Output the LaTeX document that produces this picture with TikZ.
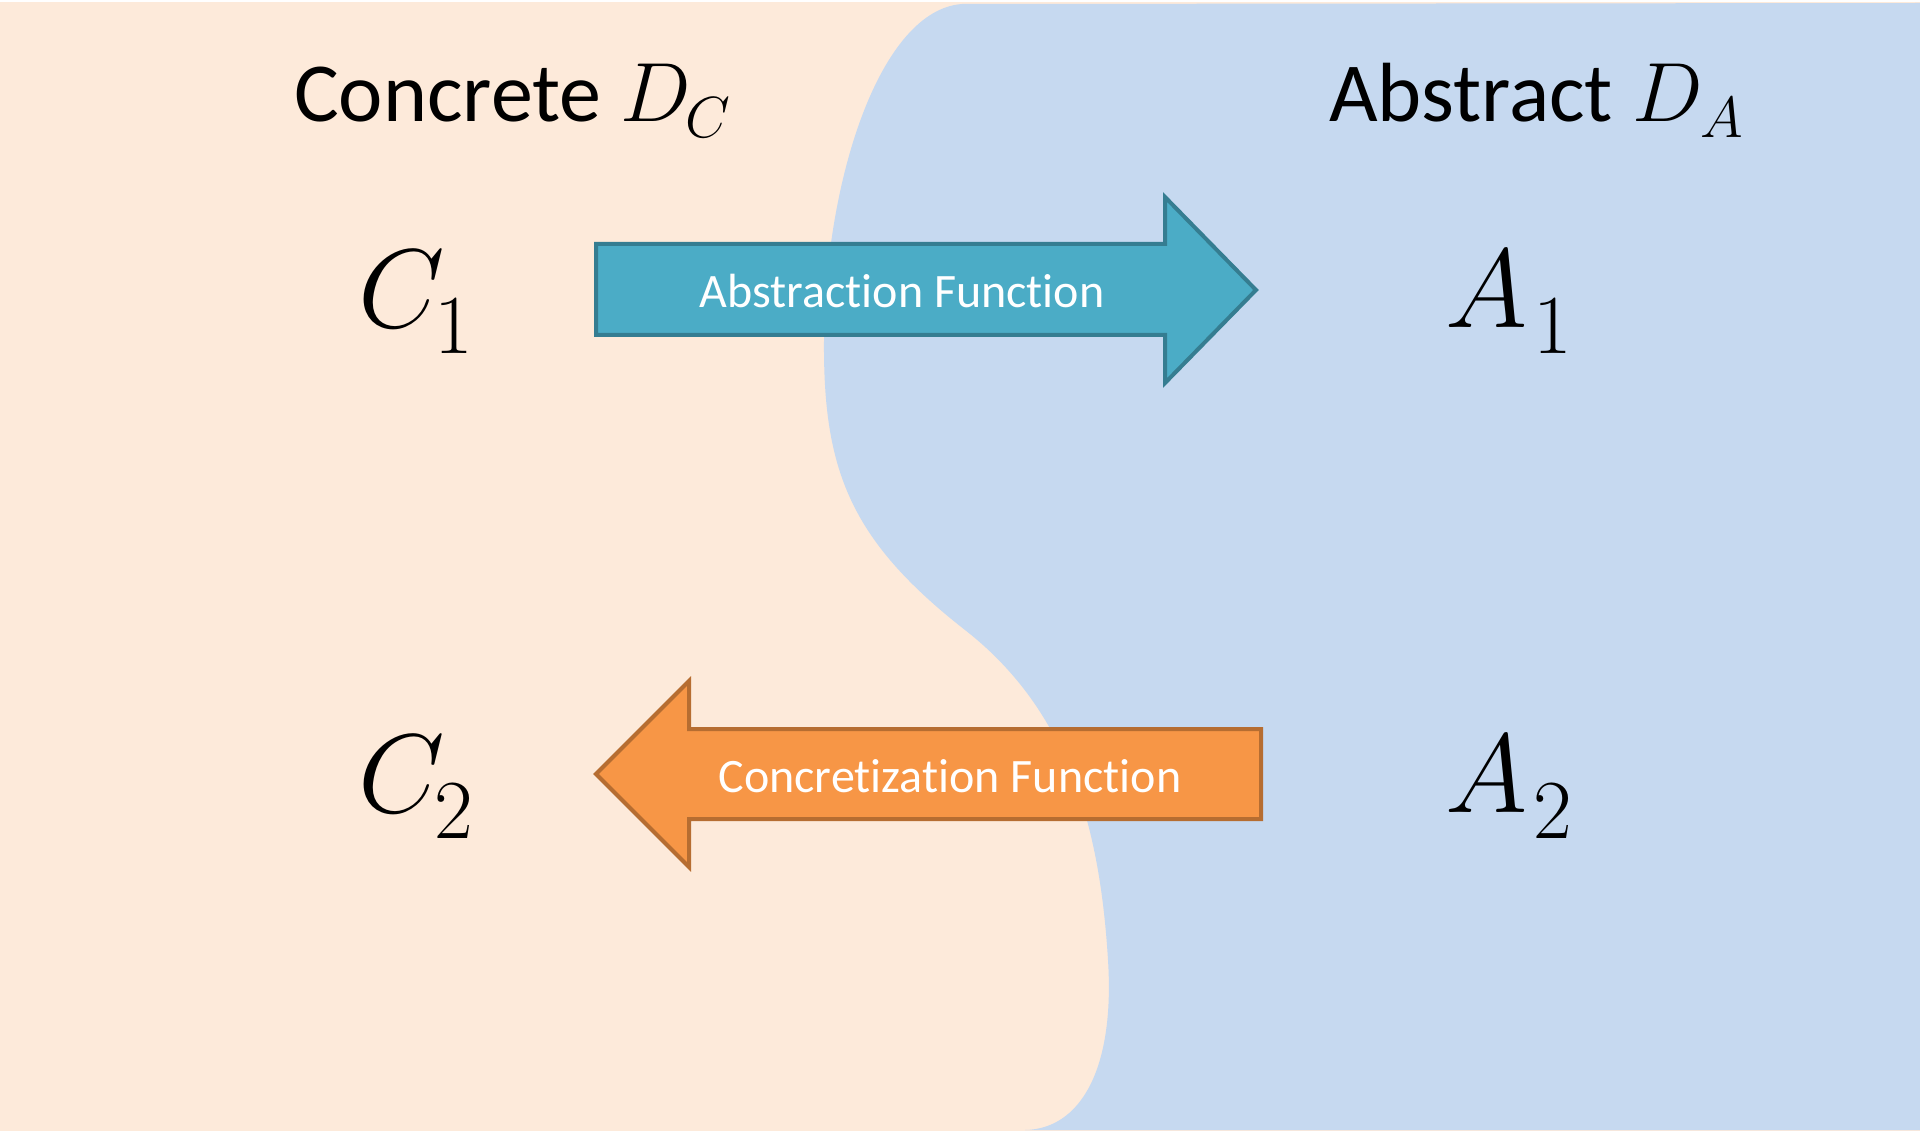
\RequirePackage{fix-cm}
\documentclass[tikz,border=0pt]{standalone}
\usepackage{fontspec}
\setmainfont{Carlito}[Ligatures=NoCommon]
\definecolor{peach}{HTML}{FDEADA}
\definecolor{paleblue}{HTML}{C6D9F0}
\definecolor{tealfill}{HTML}{4BACC6}
\definecolor{tealline}{HTML}{357D91}
\definecolor{orangefill}{HTML}{F79646}
\definecolor{orangeline}{HTML}{B66D31}
% symbol with a large, low subscript (as in the reference); #3 = kern before subscript
\newcommand{\elemsym}[3]{{\fontsize{112}{130}\selectfont$#1$}\kern#3\raisebox{-26pt}{\fontsize{84}{100}\selectfont$#2$}}
\newcommand{\domsym}[3]{$#1$\kern#3\raisebox{-16pt}{\fontsize{58}{70}\selectfont$#2$}}
\tikzset{
  title/.style={anchor=base west, inner sep=0pt, font=\fontsize{84}{100}\selectfont},
  elem/.style={anchor=base west, inner sep=0pt},
  arrowtext/.style={anchor=base, inner sep=0pt, text=white, font=\fontsize{48}{58}\selectfont},
  abstrarrow/.style={fill=tealfill, draw=tealline, line width=4pt, line join=miter},
  concarrow/.style={fill=orangefill, draw=orangeline, line width=4pt, line join=miter}
}
\begin{document}
\begin{tikzpicture}[x=1pt, y=-1pt]
\useasboundingbox (0,0) rectangle (1920,1131);
\fill[white] (0,0) rectangle (1920,1131);
\fill[peach] (0,2) rectangle (1920,1131);
% abstract domain region
\fill[paleblue] (1920,3) -- (962,4)
  .. controls (880,10) and (825,180) .. (824,340)
  .. controls (823,470) and (850,540) .. (965,630)
  .. controls (1070,712) and (1100,830) .. (1108,960)
  .. controls (1115,1070) and (1080,1129) .. (1025,1130)
  -- (1920,1130) -- cycle;
% titles
\node[title] (tC) at (294,122) {Concrete \domsym{D}{C}{-6pt}};
\node[title] (tA) at (1329,122) {Abstract \domsym{D}{A}{-2pt}};
% elements
\node[elem] (C1) at (358,328) {\elemsym{C}{1}{-10pt}};
\node[elem] (A1) at (1445,328) {\elemsym{A}{1}{6pt}};
\node[elem] (C2) at (358,812) {\elemsym{C}{2}{-10pt}};
\node[elem] (A2) at (1445,812) {\elemsym{A}{2}{6pt}};
% abstraction arrow
\draw[abstrarrow] (596,244) -- (1165,244) -- (1165,197) -- (1256,290)
  -- (1165,383) -- (1165,335) -- (596,335) -- cycle;
\node[arrowtext] (fa) at (902,308) {Abstraction Function};
% concretization arrow
\draw[concarrow] (1261,729) -- (689,729) -- (689,681) -- (596,774)
  -- (689,867) -- (689,819) -- (1261,819) -- cycle;
\node[arrowtext] (fc) at (950,792) {Concretization Function};
\end{tikzpicture}
\end{document}
